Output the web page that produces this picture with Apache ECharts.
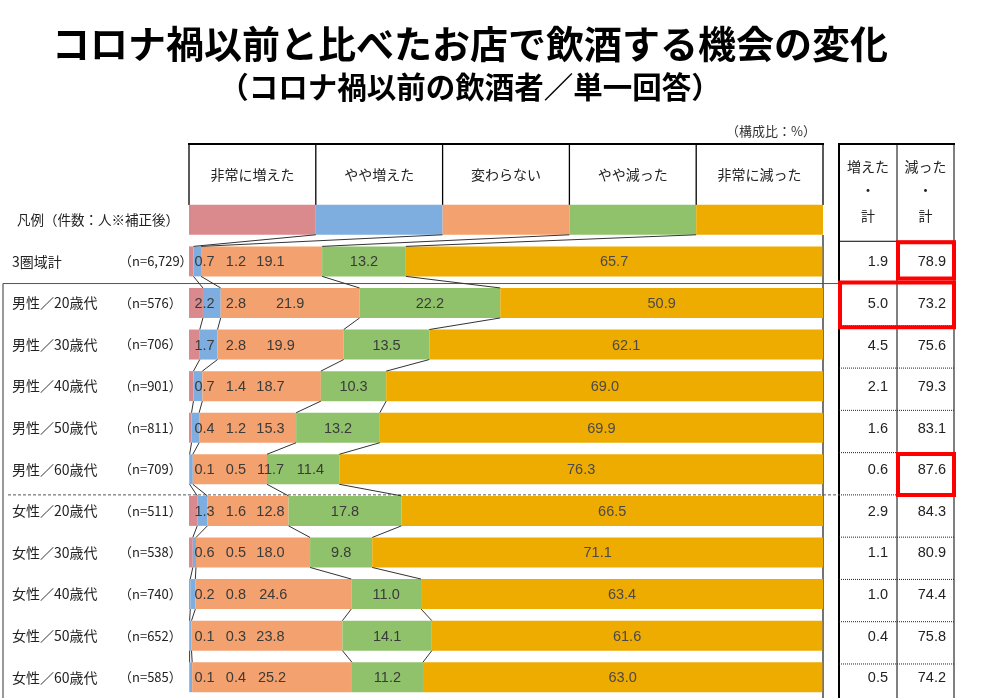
<!DOCTYPE html>
<html><head><meta charset="utf-8">
<script src="https://cdn.jsdelivr.net/npm/echarts@6/dist/echarts.min.js"></script>
<style>html,body{margin:0;padding:0;background:#fff}#c{width:996px;height:698px}</style>
</head><body><div id="c"></div>
<script>
// ---------- data ----------
const legendLabel = '凡例（件数：人※補正後）';
const answerCategories = ['非常に増えた', 'やや増えた', '変わらない', 'やや減った', '非常に減った'];
const rowNames = ['3圏域計', '男性／20歳代', '男性／30歳代', '男性／40歳代', '男性／50歳代', '男性／60歳代',
                  '女性／20歳代', '女性／30歳代', '女性／40歳代', '女性／50歳代', '女性／60歳代'];
const sampleSizes = ['6,729', '576', '706', '901', '811', '709', '511', '538', '740', '652', '585'];
const veryIncreased     = [0.7, 2.2, 1.7, 0.7, 0.4, 0.1, 1.3, 0.6, 0.2, 0.1, 0.1];
const slightlyIncreased = [1.2, 2.8, 2.8, 1.4, 1.2, 0.5, 1.6, 0.5, 0.8, 0.3, 0.4];
const unchanged         = [19.1, 21.9, 19.9, 18.7, 15.3, 11.7, 12.8, 18.0, 24.6, 23.8, 25.2];
const slightlyDecreased = [13.2, 22.2, 13.5, 10.3, 13.2, 11.4, 17.8, 9.8, 11.0, 14.1, 11.2];
const veryDecreased     = [65.7, 50.9, 62.1, 69.0, 69.9, 76.3, 66.5, 71.1, 63.4, 61.6, 63.0];
const increasedTotal    = [1.9, 5.0, 4.5, 2.1, 1.6, 0.6, 2.9, 1.1, 1.0, 0.4, 0.5];
const decreasedTotal    = [78.9, 73.2, 75.6, 79.3, 83.1, 87.6, 84.3, 80.9, 74.4, 75.8, 74.2];
const legendShares      = [20, 20, 20, 20, 20];
const tableHeaders = ['増えた', '減った'];
const unitNote = '（構成比：%）';
const titleText = 'コロナ禍以前と比べたお店で飲酒する機会の変化';
const subtitleText = '（コロナ禍以前の飲酒者／単一回答）';

// ---------- styles / layout ----------
const colors = ['#DA8A8C', '#7DAEDF', '#F3A16E', '#90C26B', '#EEAB00'];
const JP = "'Noto Sans CJK JP', sans-serif";
const NUM = "'Liberation Sans', Arial, 'Noto Sans CJK JP', sans-serif";
const G_LEFT = 189, G_RIGHT_X = 823, G_TOP = 199, ROW = 42.27, BAR = 30;
const NROWS = rowNames.length + 1;
const px = p => G_LEFT + (G_RIGHT_X - G_LEFT) * p / 100;
const rowTop = c => G_TOP + ROW * c;

const seriesArrays = [veryIncreased, slightlyIncreased, unchanged, slightlyDecreased, veryDecreased];
const rowValues = c => c === 0 ? legendShares : seriesArrays.map(a => a[c - 1]);
const cumul = c => { const v = rowValues(c); const out = [0]; v.forEach(x => out.push(out[out.length - 1] + x)); return out; };

function txt(text, x, y, font, fill, align, vAlign) {
  return { type: 'text', silent: true, style: { text, x, y, font, fill: fill || '#222',
    align: align || 'left', textAlign: align || 'left', verticalAlign: vAlign || 'middle', textVerticalAlign: vAlign || 'middle' } };
}
function line(x1, y1, x2, y2, stroke, w, dash) {
  return { type: 'line', silent: true, shape: { x1, y1, x2, y2 }, style: { stroke, lineWidth: w, lineDash: dash || null } };
}

const barSeries = answerCategories.map((name, k) => ({
  name, type: 'bar', stack: 'all', barWidth: BAR, silent: true,
  itemStyle: { color: colors[k] },
  data: [legendShares[k]].concat(seriesArrays[k]),
  z: 2
}));

const connectorSeries = {
  type: 'custom', coordinateSystem: 'cartesian2d', silent: true, z: 3,
  encode: { x: 0, y: 1 },
  data: Array.from({ length: NROWS - 1 }, (_, i) => [0, i]),
  renderItem(params, api) {
    const i = params.dataIndex;
    const a = cumul(i), b = cumul(i + 1);
    const children = [];
    for (let k = 1; k <= 4; k++) {
      const p1 = api.coord([a[k], i]);
      const p2 = api.coord([b[k], i + 1]);
      children.push({ type: 'line', shape: { x1: p1[0], y1: p1[1] + BAR / 2, x2: p2[0], y2: p2[1] - BAR / 2 },
        style: { stroke: '#333', lineWidth: 1 } });
    }
    return { type: 'group', children };
  }
};

const labelSeries = {
  type: 'custom', coordinateSystem: 'cartesian2d', silent: true, z: 4,
  encode: { x: 0, y: 1 },
  data: rowNames.map((_, i) => [0, i + 1]),
  renderItem(params, api) {
    const c = params.dataIndex + 1;
    const cu = cumul(c), v = rowValues(c);
    const mid = k => (cu[k] + cu[k + 1]) / 2;
    const pos = [];
    pos[0] = 2.45; pos[1] = 7.4;
    pos[2] = Math.max(mid(2), 12.85);
    pos[3] = Math.max(mid(3), pos[2] + 6.3);
    pos[4] = mid(4);
    const y = api.coord([0, c])[1];
    const children = v.map((val, k) => {
      const x = api.coord([pos[k], c])[0];
      return { type: 'text', style: { text: val.toFixed(1), x, y: y + 1, font: '14.5px ' + NUM,
        fill: k === 4 ? '#4a4a4a' : '#3a3a3a', align: 'center', textAlign: 'center', verticalAlign: 'middle', textVerticalAlign: 'middle' } };
    });
    return { type: 'group', children };
  }
};

const tableSeries = {
  type: 'custom', coordinateSystem: 'cartesian2d', silent: true, z: 4,
  encode: { x: 0, y: 1 },
  data: rowNames.map((_, i) => [0, i + 1]),
  renderItem(params, api) {
    const c = params.dataIndex + 1;
    const y = api.coord([0, c])[1];
    return { type: 'group', children: [
      { type: 'text', style: { text: increasedTotal[c - 1].toFixed(1), x: 888, y: y + 1, font: '14.5px ' + NUM, fill: '#222', align: 'right', textAlign: 'right', verticalAlign: 'middle', textVerticalAlign: 'middle' } },
      { type: 'text', style: { text: decreasedTotal[c - 1].toFixed(1), x: 946, y: y + 1, font: '14.5px ' + NUM, fill: '#222', align: 'right', textAlign: 'right', verticalAlign: 'middle', textVerticalAlign: 'middle' } }
    ] };
  }
};

// ---------- graphic decorations ----------
const g = [];
g.push(txt(titleText, 470, 44, 'bold 38px ' + JP, '#000', 'center'));
g.push(txt(subtitleText, 470, 87, 'bold 29.5px ' + JP, '#000', 'center'));
g.push(txt(unitNote, 771, 131, '13px ' + JP, '#333', 'center'));

const legendCum = cumul(0);
g.push(line(G_LEFT - 1, 144, G_RIGHT_X + 1, 144, '#000', 2));
legendCum.forEach(p => g.push(line(px(p), 144, px(p), 205, '#000', 1.3)));
answerCategories.forEach((name, k) => g.push(txt(name, px((legendCum[k] + legendCum[k + 1]) / 2), 175, '14px ' + JP, '#222', 'center')));
g.push(line(G_RIGHT_X, 235, G_RIGHT_X, 698, '#444', 1.5));

const T_L = 839, T_M = 897, T_R = 954;
g.push(line(T_L - 1, 144, T_R + 1, 144, '#000', 2));
g.push(line(T_L, 144, T_L, 698, '#000', 2));
g.push(line(T_M, 144, T_M, 698, '#000', 1));
g.push(line(T_R, 144, T_R, 698, '#000', 1));
g.push(line(T_L, rowTop(1), T_R, rowTop(1), '#000', 1));
tableHeaders.forEach((h, k) => {
  const cx = k === 0 ? (T_L + T_M) / 2 : (T_M + T_R) / 2;
  g.push(txt(h, cx, 167, '14px ' + JP, '#222', 'center'));
  g.push(txt('・', cx, 190, '14px ' + JP, '#222', 'center'));
  g.push(txt('計', cx, 216, '14px ' + JP, '#222', 'center'));
});
for (let c = 3; c < NROWS; c++) {
  if (c === 7) continue;
  g.push(line(T_L, rowTop(c), T_R, rowTop(c), '#222', 1, [1, 1]));
}
g.push(line(3, rowTop(2), 843, rowTop(2), '#555', 1));
g.push(line(3, rowTop(2), 3, 698, '#555', 1.2));
g.push(line(8, rowTop(7), 840, rowTop(7), '#555', 1, [3, 2]));
g.push(line(T_L, rowTop(7), T_R, rowTop(7), '#222', 1, [1, 1]));

function box(x1, y1, x2, y2) {
  return { type: 'rect', silent: true, z: 10, shape: { x: x1, y: y1, width: x2 - x1, height: y2 - y1 },
    style: { fill: null, stroke: '#FF0000', lineWidth: 4 } };
}
g.push(box(898, rowTop(1) + 1, 954, rowTop(2) - 5));
g.push(box(840, rowTop(2) - 1, 954, rowTop(3) + 1.5));
g.push(box(898, rowTop(6) + 1.5, 954, rowTop(7)));

const chart = echarts.init(document.getElementById('c'), null, { renderer: 'canvas' });
chart.setOption({
  animation: false,
  backgroundColor: '#fff',
  grid: { left: G_LEFT, top: G_TOP, width: G_RIGHT_X - G_LEFT, height: ROW * NROWS, containLabel: false },
  xAxis: { type: 'value', min: 0, max: 100, show: false },
  yAxis: {
    type: 'category', inverse: true,
    data: [legendLabel].concat(rowNames),
    axisLine: { show: false }, axisTick: { show: false }, splitLine: { show: false },
    axisLabel: {
      margin: G_LEFT - 12, align: 'left', color: '#222', fontSize: 14, fontFamily: JP,
      formatter: (value, idx) => idx === 0 ? '{lg|' + value + '}' : '{nm|' + value + '}{n|（n=' + sampleSizes[idx - 1] + '）}',
      rich: {
        lg: { fontSize: 13.5, fontFamily: JP, color: '#222', padding: [0, 0, 0, 5] },
        nm: { width: 107, fontSize: 14, fontFamily: JP, color: '#222' },
        n: { fontSize: 13, fontFamily: JP, color: '#222' }
      }
    }
  },
  series: barSeries.concat([connectorSeries, labelSeries, tableSeries]),
  graphic: { elements: g }
});
</script>
</body></html>
